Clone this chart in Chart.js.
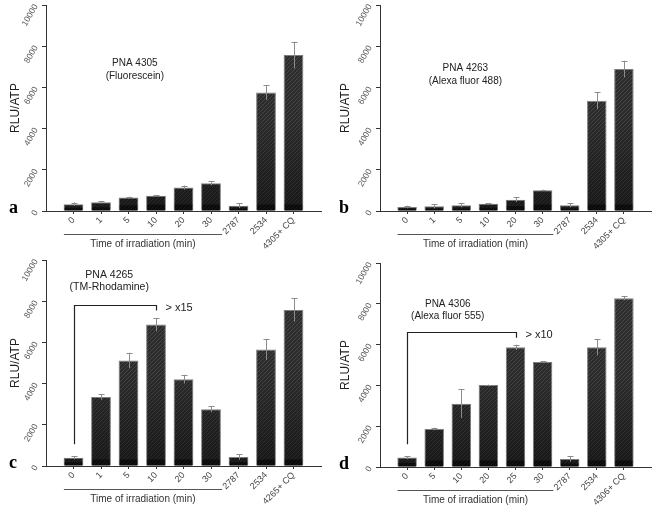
<!DOCTYPE html>
<html>
<head>
<meta charset="utf-8">
<script src="https://cdn.jsdelivr.net/npm/chart.js@4/dist/chart.umd.min.js"></script>
<style>
  body { margin: 0; background: #fff; }
  #wrap { position: relative; width: 660px; height: 508px; }
  canvas { position: absolute; }
</style>
</head>
<body>
<div id="wrap">
  <canvas id="pa" width="330" height="254" style="left:0;top:0"></canvas>
  <canvas id="pb" width="330" height="254" style="left:330px;top:0"></canvas>
  <canvas id="pc" width="330" height="254" style="left:0;top:254px"></canvas>
  <canvas id="pd" width="330" height="254" style="left:330px;top:254px"></canvas>
</div>
<script>
// data (RLU/ATP, mean and error)
const labelsA = ['0', '1', '5', '10', '20', '30', '2787', '2534', '4305+ CQ'];
const valuesA = [330, 420, 650, 745, 1135, 1345, 260, 5755, 7570];
const errorsA = [80, 50, 50, 35, 100, 95, 110, 355, 650];

const labelsB = ['0', '1', '5', '10', '20', '30', '2787', '2534', '4305+ CQ'];
const valuesB = [195, 225, 275, 355, 550, 1005, 275, 5350, 6890];
const errorsB = [65, 100, 95, 15, 115, 30, 95, 405, 405];

const labelsC = ['0', '1', '5', '10', '20', '30', '2787', '2534', '4265+ CQ'];
const valuesC = [405, 3345, 5120, 6865, 4215, 2760, 435, 5655, 7575];
const errorsC = [80, 130, 375, 325, 210, 150, 130, 515, 565];

const labelsD = ['0', '5', '10', '20', '25', '30', '2787', '2534', '4306+ CQ'];
const valuesD = [460, 1865, 3105, 4020, 5865, 5145, 390, 5865, 8270];
const errorsD = [80, 65, 700, 20, 130, 35, 130, 395, 95];

const yTicks = [0, 2000, 4000, 6000, 8000, 10000];

const noteA = ['PNA 4305', '(Fluorescein)'];
const noteB = ['PNA 4263', '(Alexa fluor 488)'];
const noteC = ['PNA 4265', '(TM-Rhodamine)'];
const noteD = ['PNA 4306', '(Alexa fluor 555)'];

// fold-change brackets: from bar, to bar, top value, end values
const bracketC = { from: 0, to: 3, top: 7820, leftEnd: 1050, rightEnd: 7545, text: '> x15' };
const bracketD = { from: 0, to: 4, top: 6635, leftEnd: 1110, rightEnd: 6340, text: '> x10' };

const FONT = "'Liberation Sans', Arial, sans-serif";

function hatch() {
  const c = document.createElement('canvas');
  c.width = 4; c.height = 4;
  const g = c.getContext('2d');
  g.fillStyle = '#2f2f2f';
  g.fillRect(0, 0, 4, 4);
  g.strokeStyle = '#4b4b4b';
  g.lineWidth = 1;
  g.beginPath();
  g.moveTo(0, 4); g.lineTo(4, 0);
  g.moveTo(-1, 1); g.lineTo(1, -1);
  g.moveTo(3, 5); g.lineTo(5, 3);
  g.stroke();
  return g.createPattern(c, 'repeat');
}

function makeExtras(p) {
  return {
    id: 'extras',
    afterDatasetsDraw(chart) {
      const ctx = chart.ctx, xs = chart.scales.x, ys = chart.scales.y, area = chart.chartArea;
      ctx.save();
      chart.getDatasetMeta(0).data.forEach((bar, i) => {
        const { x, y, base, width } = bar.getProps(['x', 'y', 'base', 'width'], true);
        const l = x - width / 2 + 1, w = width - 2, h = base - y;
        // darker toward the bottom
        const g = ctx.createLinearGradient(0, area.top, 0, base);
        g.addColorStop(0, 'rgba(0,0,0,0)');
        g.addColorStop(0.55, 'rgba(0,0,0,0.08)');
        g.addColorStop(1, 'rgba(0,0,0,0.5)');
        ctx.fillStyle = g;
        ctx.fillRect(l, y + 1, w, h - 1);
        const band = Math.min(6, h * 0.4);
        ctx.fillStyle = 'rgba(0,0,0,0.5)';
        ctx.fillRect(l, base - band, w, band);
        // error bar
        const v = p.values[i], e = p.errors[i];
        const yt = ys.getPixelForValue(v + e), yb = ys.getPixelForValue(v - e);
        const cx = Math.round(x) + 0.5;
        ctx.strokeStyle = '#8c8c8c';
        ctx.lineWidth = 1;
        ctx.beginPath();
        ctx.moveTo(cx, yb); ctx.lineTo(cx, yt);
        ctx.moveTo(cx - 3, Math.round(yt) + 0.5); ctx.lineTo(cx + 3, Math.round(yt) + 0.5);
        ctx.stroke();
      });

      // sample name
      ctx.fillStyle = '#222';
      ctx.font = p.noteSize + 'px ' + FONT;
      ctx.textAlign = 'center';
      ctx.textBaseline = 'middle';
      p.note.forEach((t, k) => {
        ctx.fillText(t, xs.getPixelForValue(p.noteAt.x), ys.getPixelForValue(p.noteAt.y[k]));
      });

      // bracket
      if (p.bracket) {
        const b = p.bracket;
        const x1 = Math.round(xs.getPixelForValue(b.from)) + 0.5, x2 = Math.round(xs.getPixelForValue(b.to)) + 0.5;
        const yt = Math.round(ys.getPixelForValue(b.top)) + 0.5;
        ctx.strokeStyle = '#222';
        ctx.lineWidth = 1.2;
        ctx.beginPath();
        ctx.moveTo(x1, ys.getPixelForValue(b.leftEnd));
        ctx.lineTo(x1, yt);
        ctx.lineTo(x2, yt);
        ctx.lineTo(x2, ys.getPixelForValue(b.rightEnd));
        ctx.stroke();
        ctx.font = '11px ' + FONT;
        ctx.textAlign = 'left';
        ctx.fillText(b.text, x2 + 9, yt + 2);
      }

      // time of irradiation group line
      const gx1 = xs.getPixelForValue(-0.35), gx2 = xs.getPixelForValue(5.4);
      const gy = area.bottom + 23.5;
      ctx.strokeStyle = '#555';
      ctx.lineWidth = 1.2;
      ctx.beginPath();
      ctx.moveTo(gx1, gy); ctx.lineTo(gx2, gy);
      ctx.stroke();
      ctx.fillStyle = '#333';
      ctx.font = '10px ' + FONT;
      ctx.textAlign = 'center';
      ctx.fillText('Time of irradiation (min)', (gx1 + gx2) / 2, area.bottom + 33.5);

      // panel letter
      ctx.fillStyle = '#000';
      ctx.font = 'bold 18px "Liberation Serif", "Times New Roman", serif';
      ctx.textAlign = 'left';
      ctx.textBaseline = 'alphabetic';
      ctx.fillText(p.letter, 9, area.bottom + 2);
      ctx.restore();
    }
  };
}

function drawPanel(id, p) {
  const fill = hatch();
  new Chart(document.getElementById(id), {
    type: 'bar',
    data: {
      datasets: [{
        data: p.values.map((v, i) => ({ x: i, y: v })),
        backgroundColor: fill,
        borderColor: '#7d7d7d',
        borderWidth: 1
      }]
    },
    options: {
      responsive: false,
      animation: false,
      layout: { padding: { left: 0, right: p.right, top: p.top, bottom: 0 } },
      plugins: { legend: { display: false }, tooltip: { enabled: false } },
      scales: {
        x: {
          type: 'linear',
          min: -1,
          max: 9,
          offset: false,
          afterFit: s => { s.height = p.xHeight; s.paddingLeft = 0; s.paddingRight = 0; },
          border: { color: '#333', width: 1 },
          grid: {
            offset: false,
            drawOnChartArea: false,
            tickLength: 3,
            tickColor: c => (c.tick && c.tick.value >= 0 && c.tick.value <= 8) ? '#333' : 'rgba(0,0,0,0)'
          },
          ticks: {
            stepSize: 1,
            autoSkip: false,
            minRotation: 45,
            maxRotation: 45,
            padding: 1,
            color: '#444',
            font: { family: FONT, size: 9 },
            callback: v => p.labels[v] ?? ''
          }
        },
        y: {
          min: 0,
          max: 10000,
          afterFit: s => { s.width = p.left; s.paddingTop = 0; s.paddingBottom = 0; },
          border: { color: '#333', width: 1 },
          grid: { drawOnChartArea: false, tickLength: 4, tickColor: '#333' },
          ticks: {
            stepSize: 1000,
            minRotation: 60,
            maxRotation: 60,
            padding: 6,
            color: '#555',
            font: { family: FONT, size: 8.5 },
            callback: v => yTicks.includes(v) ? String(v) : ''
          },
          title: {
            display: true,
            text: 'RLU/ATP',
            color: '#222',
            font: { family: FONT, size: 12 },
            padding: { top: 8, bottom: 0 }
          }
        }
      }
    },
    plugins: [makeExtras(p)]
  });
}

drawPanel('pa', { labels: labelsA, values: valuesA, errors: errorsA, note: noteA, noteSize: 10,
  noteAt: { x: 2.23, y: [7190, 6550] }, letter: 'a', left: 46, right: 9, top: 5, xHeight: 43 });
drawPanel('pb', { labels: labelsB, values: valuesB, errors: errorsB, note: noteB, noteSize: 10,
  noteAt: { x: 2.15, y: [6940, 6310] }, letter: 'b', left: 50, right: 9, top: 5, xHeight: 43 });
drawPanel('pc', { labels: labelsC, values: valuesC, errors: errorsC, note: noteC, noteSize: 10.5,
  noteAt: { x: 1.3, y: [9270, 8690] }, letter: 'c', left: 46, right: 9, top: 6, xHeight: 42, bracket: bracketC });
drawPanel('pd', { labels: labelsD, values: valuesD, errors: errorsD, note: noteD, noteSize: 10,
  noteAt: { x: 1.5, y: [7990, 7400] }, letter: 'd', left: 50, right: 9, top: 9, xHeight: 41, bracket: bracketD });
</script>
</body>
</html>
